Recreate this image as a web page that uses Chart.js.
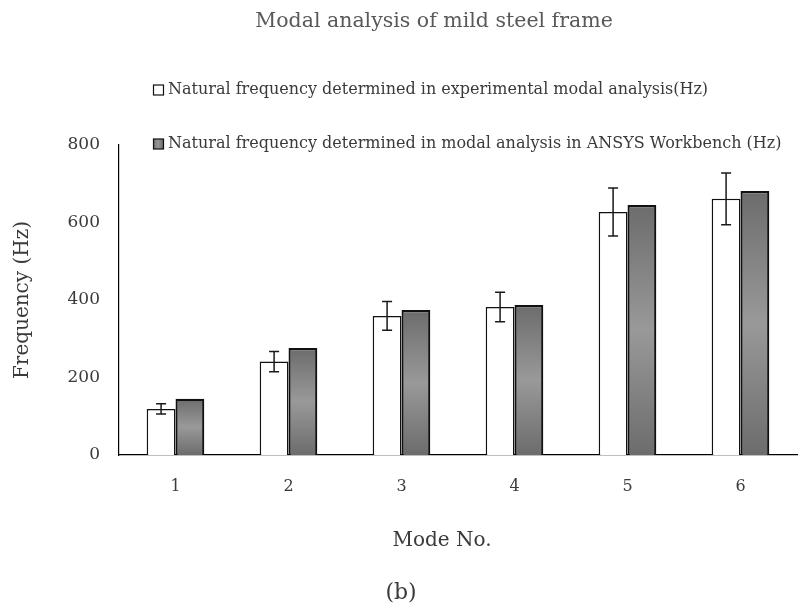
<!DOCTYPE html>
<html>
<head>
<meta charset="utf-8">
<script src="https://cdn.jsdelivr.net/npm/chart.js@4.4.1/dist/chart.umd.min.js"></script>
<style>
  html, body { margin: 0; padding: 0; background: #fff; }
  #wrap { width: 809px; height: 613px; }
</style>
</head>
<body>
<div id="wrap"><canvas id="modalChart" width="809" height="613"></canvas></div>
<script>
// Natural frequencies per mode (Hz)
const modes = ['1', '2', '3', '4', '5', '6'];
const experimental = [119, 241, 359, 382, 627, 661];
const experimentalErr = [13, 26, 37, 38, 62, 67];
const ansys = [145, 276, 374, 387, 645, 681];
const seriesLabels = [
  'Natural frequency determined in experimental modal analysis(Hz)',
  'Natural frequency determined in modal analysis in ANSYS Workbench (Hz)'
];

const FONT = "'DejaVu Serif', serif";
const TEXT = '#3a3a3a';

// grey bars: dark at the ends, lighter through the middle
function greyFill(ctx) {
  const chart = ctx.chart;
  const y = chart.scales.y;
  if (!chart.chartArea || !y || ctx.raw == null) return '#888';
  const top = y.getPixelForValue(ctx.raw);
  const base = y.getPixelForValue(0);
  const g = chart.ctx.createLinearGradient(0, top, 0, base);
  g.addColorStop(0, '#6c6c6c');
  g.addColorStop(0.5, '#999999');
  g.addColorStop(1, '#6c6c6c');
  return g;
}

const errorBars = {
  id: 'errorBars',
  afterDatasetsDraw(chart) {
    const ctx = chart.ctx;
    const y = chart.scales.y;
    chart.data.datasets.forEach(function(ds, i) {
      if (!ds.errors) return;
      const meta = chart.getDatasetMeta(i);
      meta.data.forEach(function(bar, j) {
        const v = ds.data[j], e = ds.errors[j];
        const top = y.getPixelForValue(v + e);
        const bot = y.getPixelForValue(v - e);
        ctx.save();
        ctx.strokeStyle = '#1a1a1a';
        ctx.lineWidth = 1.5;
        ctx.beginPath();
        ctx.moveTo(bar.x, top); ctx.lineTo(bar.x, bot);
        ctx.moveTo(bar.x - 5, top); ctx.lineTo(bar.x + 5, top);
        ctx.moveTo(bar.x - 5, bot); ctx.lineTo(bar.x + 5, bot);
        ctx.stroke();
        ctx.restore();
      });
    });
  }
};

// title, stacked legend rows and the captions under the axis
const captions = {
  id: 'captions',
  afterDraw(chart) {
    const ctx = chart.ctx;
    ctx.save();
    ctx.textBaseline = 'middle';

    ctx.fillStyle = '#595959';
    ctx.textAlign = 'center';
    ctx.font = '20.5px ' + FONT;
    ctx.fillText('Modal analysis of mild steel frame', 434, 22);

    const rowsY = [90, 144];
    ctx.textAlign = 'left';
    ctx.font = '16px ' + FONT;
    chart.data.datasets.forEach(function(ds, i) {
      const yy = rowsY[i];
      if (i === 0) {
        ctx.fillStyle = '#fff';
      } else {
        const g = ctx.createLinearGradient(153, 0, 163, 0);
        g.addColorStop(0, '#6c6c6c'); g.addColorStop(0.5, '#999999'); g.addColorStop(1, '#6c6c6c');
        ctx.fillStyle = g;
      }
      ctx.fillRect(153.5, yy - 5, 10, 10);
      ctx.strokeStyle = '#111';
      ctx.lineWidth = 1.2;
      ctx.strokeRect(153.5, yy - 5, 10, 10);
      ctx.fillStyle = TEXT;
      ctx.fillText(ds.label, 168, yy);
    });

    ctx.textAlign = 'center';
    ctx.fillStyle = TEXT;
    ctx.font = '20px ' + FONT;
    ctx.fillText('Mode No.', 442, 541);
    ctx.font = '22px ' + FONT;
    ctx.fillText('(b)', 401, 593);
    ctx.restore();
  }
};

new Chart(document.getElementById('modalChart'), {
  type: 'bar',
  data: {
    labels: modes,
    datasets: [
      {
        label: seriesLabels[0],
        data: experimental,
        errors: experimentalErr,
        backgroundColor: '#ffffff',
        borderColor: '#111111',
        borderWidth: 1.5,
        categoryPercentage: 0.51,
        barPercentage: 1.0
      },
      {
        label: seriesLabels[1],
        data: ansys,
        backgroundColor: greyFill,
        borderColor: '#111111',
        borderWidth: 2.2,
        categoryPercentage: 0.51,
        barPercentage: 1.0
      }
    ]
  },
  options: {
    responsive: false,
    animation: false,
    layout: { padding: { top: 145, bottom: 120, left: 10, right: 12 } },
    plugins: {
      legend: { display: false },
      tooltip: { enabled: false },
      title: { display: false }
    },
    scales: {
      x: {
        grid: { display: false, drawTicks: false },
        border: { display: true, color: '#000', width: 1.2 },
        ticks: { color: TEXT, font: { family: FONT, size: 16 }, padding: 22 },
        afterFit: function(s) { s.height = 38; }
      },
      y: {
        min: 0,
        max: 800,
        grid: { display: false, drawTicks: false },
        border: { display: true, color: '#000', width: 1.2 },
        ticks: { stepSize: 200, color: TEXT, font: { family: FONT, size: 17 }, padding: 19 },
        title: {
          display: true,
          text: 'Frequency (Hz)',
          color: TEXT,
          font: { family: FONT, size: 20 },
          padding: 1
        },
        afterFit: function(s) { s.width = 109; }
      }
    }
  },
  plugins: [errorBars, captions]
});
</script>
</body>
</html>
